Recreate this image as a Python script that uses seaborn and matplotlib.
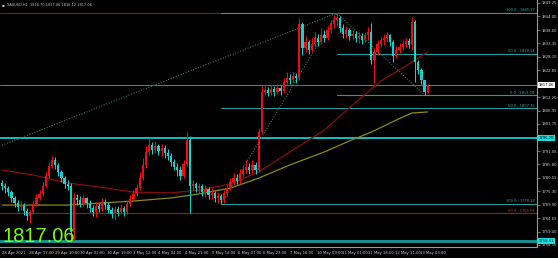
import numpy as np
import pandas as pd
import matplotlib
matplotlib.use("Agg")
import matplotlib.pyplot as plt
import matplotlib.transforms as mtransforms
import seaborn as sns

# ---------------- data (XAUUSD, 2-hour compressed bars) ----------------
first_open = 1778.5
close = [1777.3, 1776.5, 1774.9, 1772.6, 1770.6, 1769.0, 1769.8, 1767.5, 1765.5, 1767.1,
         1770.2, 1772.6, 1774.2, 1777.3, 1781.2, 1785.2, 1787.5, 1785.6, 1782.8, 1780.4,
         1778.1, 1777.3, 1759.2, 1772.6, 1771.8, 1770.2, 1772.6, 1770.6, 1768.7, 1767.1,
         1769.4, 1768.3, 1771.0, 1769.8, 1767.9, 1766.3, 1768.3, 1767.1, 1768.7, 1767.1,
         1770.2, 1772.2, 1774.2, 1776.5, 1780.4, 1785.6, 1790.7, 1793.4, 1791.4, 1793.0,
         1791.1, 1792.2, 1790.3, 1789.1, 1786.7, 1784.8, 1783.6, 1781.2, 1785.9, 1795.4,
         1777.3, 1778.1, 1776.5, 1777.3, 1774.9, 1776.1, 1773.8, 1774.6, 1772.6, 1773.4,
         1771.8, 1774.6, 1776.5, 1778.9, 1780.4, 1779.3, 1782.0, 1783.6, 1784.8, 1783.6,
         1785.6, 1783.6, 1798.5, 1814.2, 1815.0, 1813.9, 1815.4, 1814.2, 1815.8, 1814.6,
         1818.2, 1819.7, 1819.0, 1820.5, 1819.7, 1841.0, 1831.5, 1833.9, 1830.8, 1833.1,
         1835.5, 1833.9, 1836.6, 1835.5, 1838.6, 1841.0, 1842.5, 1843.3, 1839.4, 1837.0,
         1838.6, 1836.3, 1837.0, 1835.5, 1836.3, 1834.7, 1836.6, 1837.8, 1826.8, 1830.0,
         1833.1, 1834.7, 1835.5, 1836.6, 1833.9, 1828.4, 1830.8, 1831.9, 1833.1, 1834.3,
         1832.7, 1841.8, 1826.0, 1822.9, 1819.0, 1814.2, 1817.06]
high = [1779.7, 1778.5, 1777.3, 1775.7, 1773.4, 1771.8, 1771.4, 1770.6, 1768.7, 1767.9,
        1771.8, 1774.2, 1775.7, 1778.9, 1782.8, 1786.7, 1789.1, 1788.7, 1786.3, 1783.6,
        1781.2, 1779.7, 1778.5, 1774.6, 1774.2, 1773.4, 1773.8, 1773.0, 1771.8, 1769.8,
        1771.0, 1770.6, 1772.6, 1772.2, 1771.0, 1769.0, 1769.4, 1769.4, 1770.2, 1769.4,
        1771.4, 1773.8, 1775.7, 1778.1, 1782.8, 1788.3, 1793.0, 1796.2, 1794.6, 1795.0,
        1793.8, 1793.8, 1793.4, 1791.8, 1790.3, 1787.9, 1786.3, 1785.2, 1787.5, 1798.5,
        1796.9, 1779.7, 1778.9, 1778.5, 1778.1, 1777.7, 1776.9, 1776.5, 1775.3, 1774.9,
        1774.2, 1775.7, 1778.1, 1780.4, 1782.4, 1782.0, 1784.0, 1785.6, 1787.5, 1786.3,
        1787.5, 1786.7, 1800.1, 1816.6, 1817.0, 1816.2, 1817.0, 1816.6, 1817.4, 1817.0,
        1819.7, 1822.1, 1821.3, 1822.1, 1821.7, 1843.3, 1841.8, 1836.3, 1834.7, 1835.5,
        1837.8, 1837.0, 1839.4, 1838.6, 1840.2, 1842.5, 1844.5, 1845.27, 1844.1, 1841.0,
        1840.2, 1839.4, 1838.6, 1838.2, 1837.8, 1837.4, 1837.8, 1839.8, 1841.4, 1831.5,
        1834.7, 1836.3, 1837.0, 1837.8, 1837.0, 1834.7, 1832.3, 1833.5, 1834.7, 1835.5,
        1835.5, 1843.7, 1842.5, 1826.8, 1823.7, 1819.0, 1817.4]
low = [1775.7, 1774.6, 1773.4, 1771.0, 1769.0, 1767.5, 1767.9, 1765.9, 1763.9, 1762.8,
       1766.3, 1769.4, 1771.8, 1773.4, 1776.5, 1780.4, 1784.4, 1784.0, 1781.2, 1778.9,
       1776.5, 1775.7, 1755.3, 1756.1, 1769.8, 1769.0, 1769.4, 1768.7, 1767.1, 1765.5,
       1765.1, 1767.1, 1767.5, 1768.3, 1766.7, 1764.7, 1763.9, 1765.5, 1766.3, 1765.5,
       1766.3, 1769.4, 1771.4, 1773.4, 1775.7, 1779.7, 1784.4, 1789.5, 1789.9, 1790.3,
       1789.5, 1789.1, 1788.3, 1787.5, 1785.2, 1783.6, 1781.2, 1779.7, 1780.4, 1785.2,
       1766.7, 1775.7, 1774.9, 1774.6, 1773.4, 1773.0, 1772.2, 1772.2, 1771.0, 1770.6,
       1770.22, 1770.6, 1773.4, 1775.7, 1777.7, 1778.1, 1778.1, 1780.8, 1782.4, 1782.0,
       1782.4, 1782.0, 1782.8, 1797.7, 1813.1, 1812.7, 1813.1, 1812.7, 1813.5, 1813.1,
       1813.9, 1817.4, 1817.4, 1817.8, 1817.8, 1819.0, 1828.8, 1830.0, 1829.2, 1830.0,
       1831.9, 1832.3, 1833.1, 1833.9, 1834.7, 1837.4, 1839.4, 1840.2, 1837.8, 1835.5,
       1835.5, 1834.7, 1834.7, 1833.9, 1833.5, 1833.1, 1833.9, 1834.7, 1825.2, 1817.8,
       1828.8, 1831.9, 1832.7, 1833.9, 1832.3, 1826.0, 1827.6, 1829.6, 1830.8, 1831.9,
       1831.5, 1830.8, 1818.2, 1821.3, 1817.4, 1813.0, 1813.9]

ma_red_idx = [0, 10, 21, 31, 42, 54, 63, 73, 82, 92, 103, 111, 121, 127, 136]
ma_red_val = [1783.6, 1781.6, 1778.5, 1776.9, 1774.9, 1774.6, 1775.7, 1778.1, 1782.8,
              1790.7, 1799.3, 1808.0, 1818.6, 1822.9, 1830.0]
ma_olive_idx = [0, 21, 42, 54, 63, 73, 82, 92, 103, 111, 118, 128, 131, 136]
ma_olive_val = [1769.8, 1769.8, 1771.4, 1772.6, 1774.2, 1776.5, 1780.4, 1785.6, 1790.7,
                1795.0, 1798.5, 1804.4, 1806.0, 1806.4]

trend_lines = [([0, 107], [1793.3, 1845.27]),
               ([70, 107], [1770.22, 1845.27]),
               ([107, 135], [1845.27, 1813.00])]

fib_upper_levels = [1829.14, 1813.00]
fib_upper_labels = ["50.0 - 1829.14", "0.0 - 1813.00"]
fib_upper_start = 107
fib_mid_levels = [1845.27, 1807.76, 1770.22]
fib_mid_labels = ["100.0 - 1845.27", "50.0 - 1807.76", "100.0 - 1770.22"]
fib_mid_start = 70
fib_red_levels = [1845.27, 1766.58]
fib_red_labels = ["", "50.0 - 1766.58"]

level_cyan = 1796.20
level_low = 1755.61
last_price = 1817.06

ytick_vals = [1849.25, 1844.00, 1838.60, 1833.35, 1828.10, 1822.85, 1812.20, 1806.95,
              1801.75, 1791.05, 1785.80, 1780.55, 1775.30, 1769.90, 1764.65, 1759.40, 1754.15]
xtick_hours = [0, 17, 34, 50, 67, 84, 100, 117, 134, 151, 167, 184, 201, 217, 234, 251, 267]
xtick_labels = ["28 Apr 2021", "28 Apr 17:00", "29 Apr 10:00", "30 Apr 02:00", "30 Apr 19:00",
                "3 May 12:00", "4 May 04:00", "4 May 21:00", "5 May 14:00", "6 May 07:00",
                "6 May 23:00", "7 May 16:00", "10 May 09:00", "11 May 01:00", "11 May 18:00",
                "12 May 11:00", "13 May 03:00"]
title_text = "XAUUSD,H1  1816.70 1817.06 1816.12 1817.06"

# ---------------- figure ----------------
sns.set_style("dark")
plt.rcParams['font.family'] = ['DejaVu Sans']

W, H = 558, 258
fig = plt.figure(figsize=(W / 100, H / 100), dpi=100, facecolor='black')
ax = fig.add_axes([0, 1 - 247 / H, 537 / W, 247 / H])
ax.set_facecolor('black')

n = len(close)
idx = np.arange(n)
opens = np.array([first_open] + close[:-1])
closes = np.array(close)
highs = np.array(high)
lows = np.array(low)
up = closes >= opens
UPC, DNC = '#e81010', '#1ccfcf'
cols = np.where(up, UPC, DNC)

df = pd.DataFrame({"i": idx, "o": opens, "h": highs, "l": lows, "c": closes, "col": cols})

# horizontal levels
ax.axhline(fib_red_levels[0], color='#8a1a05', lw=0.8, zorder=1)
ax.axhline(fib_red_levels[1], color='#8a2a08', lw=0.8, zorder=1)
ax.axhline(level_cyan, color='#10e0e0', lw=1.2, zorder=1)
ax.axhline(level_low, color='#149a9a', lw=2.0, zorder=1)
ax.axhline(last_price, color='#6e6e6e', lw=0.8, zorder=1)
xr = 170.93
for lv in fib_mid_levels:
    ax.plot([fib_mid_start, xr], [lv, lv], color='#1d9f9f', lw=0.8, zorder=1)
for lv in fib_upper_levels:
    ax.plot([fib_upper_start, xr], [lv, lv], color='#1d9f9f', lw=0.8, zorder=1)

# moving averages via seaborn
sns.lineplot(x=ma_red_idx, y=ma_red_val, ax=ax, color='#8b0c0c', lw=0.9, zorder=2)
sns.lineplot(x=ma_olive_idx, y=ma_olive_val, ax=ax, color='#8f8a10', lw=0.9, zorder=2)

# trend lines (dotted)
for xs, ys in trend_lines:
    sns.lineplot(x=xs, y=ys, ax=ax, color='#1f7a55', lw=0.8, linestyle=(0, (1, 1.4)), zorder=2)

# candles
ax.vlines(df["i"], df["l"], df["h"], colors=df["col"], lw=0.75, zorder=3)
bottoms = np.minimum(df["o"], df["c"])
heights = np.maximum(np.abs(df["c"] - df["o"]), 0.25)
ax.bar(df["i"], heights, bottom=bottoms, width=0.72, color=df["col"], lw=0, zorder=4)

ax.set_xlim(-0.64, xr)
ax.set_ylim(1753.33, 1850.4)

# fib labels
tr = mtransforms.blended_transform_factory(ax.transAxes, ax.transData)
for lv, lb in zip(fib_mid_levels + fib_upper_levels, fib_mid_labels + fib_upper_labels):
    ax.text(0.995, lv + 0.25, lb, transform=tr, ha='right', va='bottom', fontsize=2.6,
            color='#1fb0b0', zorder=5)
for lv, lb in zip(fib_red_levels, fib_red_labels):
    if lb:
        ax.text(0.995, lv + 0.25, lb, transform=tr, ha='right', va='bottom', fontsize=2.6,
                color='#d0400f', zorder=5)

# axes styling
for s in ['top', 'left']:
    ax.spines[s].set_visible(False)
for s in ['right', 'bottom']:
    ax.spines[s].set_color('#9a9a9a')
    ax.spines[s].set_linewidth(0.8)
ax.grid(False)
ax.yaxis.tick_right()
ax.set_yticks(ytick_vals)
ax.set_yticklabels([f"{v:.2f}" for v in ytick_vals])
ax.tick_params(axis='y', colors='#9a9a9a', labelcolor='#d0d0d0', labelsize=2.7,
               length=2, width=0.5, pad=1.5, direction='out')
ax.set_xticks([h / 2 for h in xtick_hours])
ax.set_xticklabels(xtick_labels)
for t in ax.get_xticklabels():
    t.set_ha('left')
ax.tick_params(axis='x', colors='#9a9a9a', labelcolor='#d0d0d0', labelsize=2.7,
               length=2, width=0.5, pad=1.0, direction='out')
ax.set_xlabel('')
ax.set_ylabel('')

# price boxes on the right axis
trb = mtransforms.blended_transform_factory(ax.transAxes, ax.transData)
ax.text(1.003, last_price, f"{last_price:.2f}", transform=trb, ha='left', va='center',
        fontsize=2.7, color='black', clip_on=False, zorder=6,
        bbox=dict(boxstyle='square,pad=0.25', fc='white', ec='none'))
ax.text(1.003, level_cyan, f"{level_cyan:.2f}", transform=trb, ha='left', va='center',
        fontsize=2.7, color='black', clip_on=False, zorder=6,
        bbox=dict(boxstyle='square,pad=0.25', fc='#10e0e0', ec='none'))
ax.text(1.003, level_low, f"{level_low:.2f}", transform=trb, ha='left', va='center',
        fontsize=2.7, color='black', clip_on=False, zorder=6,
        bbox=dict(boxstyle='square,pad=0.25', fc='#10e0e0', ec='none'))

# title and big price
ax.text(7 / 537, 1 - 5 / 247, title_text, transform=ax.transAxes, ha='left', va='center',
        fontsize=2.5, color='#c8c8c8', zorder=6)
ax.text(2 / 537, 1 - 5 / 247, "\u25aa", transform=ax.transAxes, ha='left', va='center',
        fontsize=3, color='#c8c8c8', zorder=6)
ax.text(2 / 537, 5 / 247, f"{last_price:.2f}", transform=ax.transAxes, ha='left',
        va='baseline', fontsize=14.5, family='Liberation Sans', color='#7cfc00', zorder=6)

fig.savefig("out.png", dpi=100, facecolor='black')
